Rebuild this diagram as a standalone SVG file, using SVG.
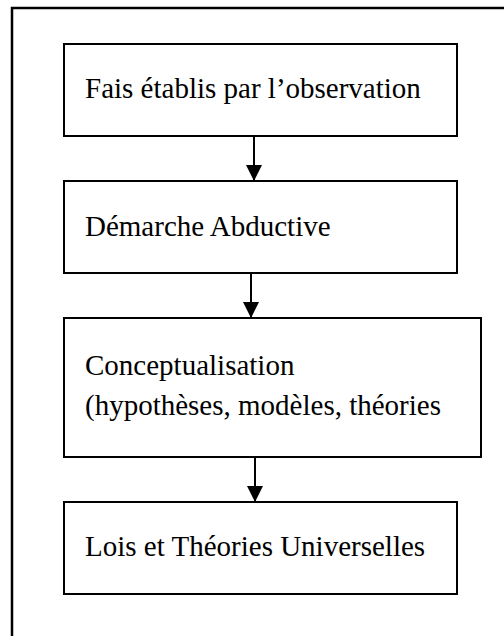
<svg xmlns="http://www.w3.org/2000/svg" width="504" height="636" viewBox="0 0 504 636">
<style>
.box{fill:#fff;stroke:#000;stroke-width:2}
.lbl{font-family:"Liberation Serif","Times New Roman",serif;font-size:29px;fill:#000}
.con{stroke:#000;stroke-width:2;fill:none}
</style>
<defs>
<marker id="ah" markerUnits="userSpaceOnUse" markerWidth="16" markerHeight="17" refX="16" refY="8" orient="auto">
<path d="M0,0 L16,8 L0,16 Z" fill="#000"/>
</marker>
</defs>
<rect width="504" height="636" fill="#fff"/>
<path d="M12,636 L12,8 L504,8" fill="none" stroke="#000" stroke-width="2.5"/>
<g id="n1"><rect class="box" x="64" y="44" width="393" height="92"/><text class="lbl" x="85" y="98">Fais établis par l’observation</text></g>
<g id="n2"><rect class="box" x="64" y="181" width="393" height="92"/><text class="lbl" x="85" y="236">Démarche Abductive</text></g>
<g id="n3"><rect class="box" x="64" y="318" width="417" height="139"/><text class="lbl" x="85" y="375">Conceptualisation</text><text class="lbl" x="85" y="415">(hypothèses, modèles, théories</text></g>
<g id="n4"><rect class="box" x="64" y="502" width="393" height="92"/><text class="lbl" x="85" y="556">Lois et Théories Universelles</text></g>
<g id="connectors">
<line class="con" x1="254" y1="136" x2="254" y2="181" marker-end="url(#ah)"/>
<line class="con" x1="251" y1="273" x2="251" y2="318" marker-end="url(#ah)"/>
<line class="con" x1="255" y1="457" x2="255" y2="502" marker-end="url(#ah)"/>
</g>
</svg>
